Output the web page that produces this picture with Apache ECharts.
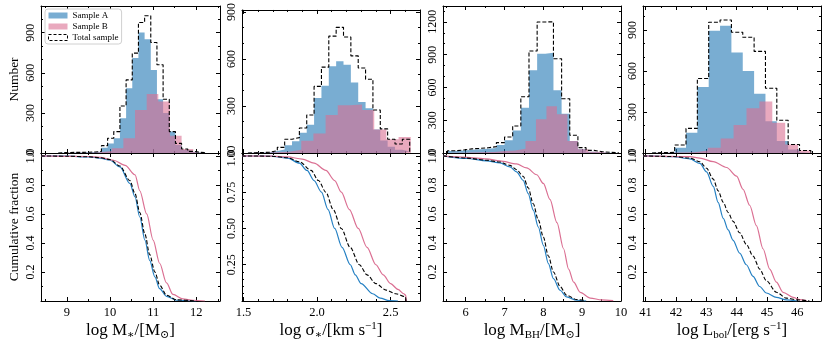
<!DOCTYPE html>
<html>
<head>
<meta charset="utf-8">
<script src="https://cdn.jsdelivr.net/npm/echarts@6/dist/echarts.min.js"></script>
<style>
html, body { margin: 0; padding: 0; background: #fff; }
#main { width: 830px; height: 346px; }
</style>
</head>
<body>
<div id="main"></div>
<script>
// histogram bins: [first edge, bin width], counts per bin
var binMA = [8.8, 0.143];
var cntMA = [2, 2, 3, 4, 5, 7, 10, 40, 72, 110, 260, 485, 710, 902, 852, 622, 402, 300, 160, 60, 22, 8, 3, 1];
var cntMT = [3, 4, 5, 5, 6, 8, 12, 55, 110, 160, 352, 547, 747, 977, 1027, 827, 660, 402, 160, 72, 30, 12, 5, 2];
var binMB = [8.96, 0.27];
var cntMB = [1, 2, 5, 15, 35, 110, 322, 442, 385, 130, 30, 8];

var binSA = [1.53, 0.05];
var cntSA = [2, 3, 5, 12, 22, 50, 75, 130, 181, 351, 430, 554, 585, 564, 450, 326, 285, 150, 80, 40, 20, 10];
var cntST = [2, 3, 5, 15, 36, 88, 98, 160, 243, 425, 548, 746, 802, 740, 620, 543, 471, 274, 154, 88, 57, 88];
var binSB = [1.562, 0.0827];
var cntSB = [2, 4, 8, 20, 78, 124, 243, 305, 309, 274, 150, 88, 102];

var binBA = [5.53, 0.21];
var cntBA = [18, 24, 30, 35, 40, 45, 73, 116, 207, 415, 756, 909, 918, 573, 360, 110, 34, 12, 5, 2, 1];
var cntBT = [20, 28, 38, 42, 48, 58, 95, 146, 247, 515, 933, 1199, 1200, 863, 497, 162, 49, 24, 12, 6, 3];
var binBB = [5.65, 0.27];
var cntBB = [2, 4, 6, 9, 18, 24, 40, 110, 308, 427, 354, 110, 34, 12, 4];

var binLA = [41.21, 0.374];
var cntLA = [1, 3, 38, 148, 483, 894, 931, 735, 600, 434, 233, 87, 26, 5];
var cntLT = [3, 5, 58, 180, 545, 956, 973, 883, 846, 743, 473, 239, 62, 18];
var binLB = [41.35, 0.425];
var cntLB = [1, 3, 6, 18, 38, 106, 204, 327, 376, 222, 62, 18];

// cumulative fraction curves [x, fraction]
var cumMA = [[8.4,1.0],[9.0,0.998],[9.5,0.993],[9.77,0.985],[10.0,0.97],[10.23,0.924],[10.46,0.81],[10.58,0.717],[10.69,0.579],[10.81,0.419],[10.92,0.28],[11.04,0.166],[11.15,0.085],[11.31,0.032],[11.54,0.005],[12.0,0.0]];
var cumMT = [[8.4,1.0],[9.0,0.998],[9.5,0.994],[9.77,0.987],[10.0,0.975],[10.23,0.93],[10.46,0.83],[10.58,0.74],[10.69,0.61],[10.81,0.46],[10.92,0.32],[11.04,0.2],[11.15,0.11],[11.31,0.04],[11.54,0.008],[12.0,0.0]];
var cumMB = [[8.4,1.0],[9.5,0.996],[9.77,0.99],[10.08,0.97],[10.35,0.935],[10.58,0.87],[10.69,0.76],[10.85,0.6],[11.0,0.42],[11.15,0.26],[11.31,0.125],[11.46,0.045],[11.69,0.015],[11.92,0.005],[12.2,0.0]];

var cumSA = [[1.49,1.0],[1.6,0.999],[1.7,0.997],[1.8,0.985],[1.88,0.95],[1.932,0.9],[1.98,0.83],[2.03,0.75],[2.075,0.63],[2.12,0.5],[2.17,0.37],[2.226,0.25],[2.26,0.18],[2.3,0.12],[2.378,0.05],[2.43,0.02],[2.49,0.003],[2.55,0.0]];
var cumST = [[1.49,1.0],[1.6,0.999],[1.7,0.997],[1.8,0.987],[1.88,0.96],[1.96,0.9],[2.01,0.83],[2.06,0.75],[2.11,0.63],[2.165,0.5],[2.225,0.37],[2.288,0.25],[2.34,0.18],[2.4,0.12],[2.47,0.075],[2.536,0.05],[2.6,0.03],[2.605,0.0]];
var cumSB = [[1.49,1.0],[1.7,0.998],[1.8,0.993],[1.9,0.978],[1.98,0.95],[2.06,0.9],[2.12,0.83],[2.165,0.75],[2.22,0.63],[2.28,0.5],[2.34,0.37],[2.4,0.25],[2.45,0.18],[2.5,0.12],[2.55,0.08],[2.59,0.05],[2.603,0.04],[2.607,0.0]];

var cumBA = [[5.42,1.0],[6.03,0.982],[6.54,0.966],[6.88,0.952],[7.14,0.924],[7.31,0.89],[7.48,0.832],[7.61,0.74],[7.74,0.626],[7.87,0.51],[8.0,0.384],[8.13,0.258],[8.26,0.154],[8.43,0.074],[8.6,0.028],[8.86,0.005],[9.1,0.0]];
var cumBT = [[5.42,1.0],[6.03,0.985],[6.54,0.97],[6.88,0.958],[7.14,0.935],[7.31,0.905],[7.48,0.86],[7.61,0.78],[7.74,0.67],[7.87,0.56],[8.0,0.44],[8.13,0.31],[8.26,0.2],[8.43,0.1],[8.6,0.04],[8.86,0.01],[9.1,0.002]];
var cumBB = [[5.42,1.0],[6.03,0.99],[6.54,0.98],[6.88,0.966],[7.31,0.945],[7.57,0.917],[7.83,0.87],[8.0,0.81],[8.17,0.7],[8.35,0.54],[8.52,0.36],[8.65,0.22],[8.78,0.13],[8.95,0.06],[9.21,0.02],[9.5,0.008],[9.8,0.002]];

var cumLA = [[40.92,1.0],[41.91,0.995],[42.46,0.98],[42.79,0.948],[43.01,0.89],[43.23,0.79],[43.39,0.68],[43.56,0.57],[43.72,0.49],[43.88,0.42],[44.1,0.33],[44.32,0.25],[44.54,0.17],[44.76,0.1],[44.98,0.055],[45.31,0.025],[45.64,0.008],[46.0,0.0]];
var cumLT = [[40.92,1.0],[41.91,0.996],[42.46,0.985],[42.79,0.96],[43.01,0.915],[43.23,0.84],[43.39,0.76],[43.56,0.68],[43.72,0.61],[43.88,0.55],[44.1,0.47],[44.32,0.39],[44.54,0.31],[44.76,0.22],[44.98,0.14],[45.31,0.06],[45.64,0.02],[46.0,0.008],[46.4,0.0]];
var cumLB = [[40.92,1.0],[42.46,0.995],[42.79,0.985],[43.23,0.96],[43.67,0.92],[44.0,0.86],[44.21,0.77],[44.43,0.66],[44.65,0.52],[44.87,0.36],[45.09,0.22],[45.31,0.13],[45.53,0.06],[45.86,0.025],[46.08,0.01],[46.3,0.003]];

// tick labels
var xTicks = [[9, 10, 11, 12], [1.5, 2.0, 2.5], [6, 7, 8, 9, 10], [41, 42, 43, 44, 45, 46]];
var numTicks = [[0, 300, 600, 900], [0, 300, 600, 900], [0, 300, 600, 900, 1200], [0, 300, 600, 900]];
var fracTicks = [[0.2, 0.4, 0.6, 0.8, 1.0], [0.25, 0.5, 0.75, 1.0], [0.2, 0.4, 0.6, 0.8, 1.0], [0.2, 0.4, 0.6, 0.8, 1.0]];
var xNames = [
  '{n|log M}{sub|∗}{n|/[M}{sub|⊙}{n|]}',
  '{n|log σ}{sub|∗}{n|/[km s}{sup|−1}{n|]}',
  '{n|log M}{sub|BH}{n|/[M}{sub|⊙}{n|]}',
  '{n|log L}{sub|bol}{n|/[erg s}{sup|−1}{n|]}'
];

var FONT = "'Liberation Serif','DejaVu Serif',serif";
var fillA = 'rgba(31,119,180,0.6)';
var fillB = 'rgba(219,112,147,0.6)';
var lineA = '#2580c3';
var lineB = '#db7093';

var gridLeft = [41, 242, 443, 643];
var gridWidth = [179, 178, 178, 178];
var xRange = [[8.4, 12.55], [1.49, 2.70], [5.415, 10.0], [40.915, 46.78]];
var topMax = [1100, 913, 1345, 1075];
var xMinorStep = [0.5, 0.1, 0.5, 0.5];
var fracMinorStep = [0.1, 0.05, 0.1, 0.1];

function steps(lo, hi, st) {
  var out = [];
  for (var k = Math.ceil(lo / st - 1e-9); k * st <= hi + 1e-9; k++) out.push(+(k * st).toFixed(4));
  return out;
}
function hist(bin, cnt) {
  var d = [];
  for (var i = 0; i < cnt.length; i++) d.push([bin[0] + i * bin[1], cnt[i]]);
  d.push([bin[0] + cnt.length * bin[1], cnt[cnt.length - 1]]);
  return d;
}
function outline(bin, cnt) {
  var d = [[bin[0], 0]];
  for (var i = 0; i < cnt.length; i++) d.push([bin[0] + i * bin[1], cnt[i]]);
  d.push([bin[0] + cnt.length * bin[1], 0]);
  return d;
}

var histSets = [
  [binMA, cntMA, binMB, cntMB, cntMT],
  [binSA, cntSA, binSB, cntSB, cntST],
  [binBA, cntBA, binBB, cntBB, cntBT],
  [binLA, cntLA, binLB, cntLB, cntLT]
];
var cumSets = [[cumMA, cumMB, cumMT], [cumSA, cumSB, cumST], [cumBA, cumBB, cumBT], [cumLA, cumLB, cumLT]];

var grids = [], xAxes = [], yAxes = [], series = [];
var black = { color: '#000', width: 1 };

for (var r = 0; r < 2; r++) {
  for (var c = 0; c < 4; c++) {
    var g = r * 4 + c;
    grids.push({ left: gridLeft[c], width: gridWidth[c], top: r === 0 ? 6 : 153, height: r === 0 ? 147 : 148 });
    var xr = xRange[c];
    var xMinor = steps(xr[0], xr[1], xMinorStep[c]);
    var yMax = r === 0 ? topMax[c] : 1.02;
    var yMajor = r === 0 ? numTicks[c] : fracTicks[c];
    var yMinor = r === 0 ? steps(0, yMax, 100) : steps(0, 1.02, fracMinorStep[c]);
    ['bottom', 'top'].forEach(function (pos) {
      var main = pos === 'bottom';
      xAxes.push({
        gridIndex: g, type: 'value', position: pos, min: xr[0], max: xr[1],
        axisLine: { show: true, onZero: false, lineStyle: black },
        axisTick: { show: true, inside: true, length: 4, customValues: xTicks[c], lineStyle: black },
        axisLabel: (main && r === 1) ? {
          show: true, customValues: xTicks[c], margin: 5, fontSize: 12.5, color: '#000', fontFamily: FONT,
          formatter: (function (cc) { return function (v) { return cc === 1 ? v.toFixed(1) : String(v); }; })(c)
        } : { show: false },
        splitLine: { show: false },
        name: (main && r === 1) ? xNames[c] : '',
        nameLocation: 'middle', nameGap: 20,
        nameTextStyle: {
          fontFamily: FONT, color: '#000', fontSize: 17,
          rich: {
            n: { fontFamily: FONT, fontSize: 17, lineHeight: 20, verticalAlign: 'middle', color: '#000' },
            sub: { fontFamily: FONT, fontSize: 11, lineHeight: 12, verticalAlign: 'bottom', color: '#000' },
            sup: { fontFamily: FONT, fontSize: 11, lineHeight: 10, verticalAlign: 'top', color: '#000' }
          }
        }
      });
    });
    ['bottom', 'top'].forEach(function (pos) {
      xAxes.push({
        gridIndex: g, type: 'value', position: pos, min: xr[0], max: xr[1],
        axisLine: { show: false, onZero: false },
        axisTick: { show: true, inside: true, length: 2, customValues: xMinor, lineStyle: black },
        axisLabel: { show: false }, splitLine: { show: false }
      });
    });
    ['left', 'right'].forEach(function (pos) {
      var main = pos === 'left';
      yAxes.push({
        gridIndex: g, type: 'value', position: pos, min: 0, max: yMax,
        axisLine: { show: true, onZero: false, lineStyle: black },
        axisTick: { show: true, inside: true, length: 4, customValues: yMajor, lineStyle: black },
        axisLabel: main ? {
          show: true, customValues: yMajor, rotate: 90, margin: 4, fontSize: 12, color: '#000', fontFamily: FONT,
          formatter: (function (rr, cc) {
            return function (v) { return rr === 0 ? String(v) : (cc === 1 ? v.toFixed(2) : v.toFixed(1)); };
          })(r, c)
        } : { show: false },
        splitLine: { show: false },
        name: (main && c === 0) ? (r === 0 ? 'Number' : 'Cumulative fraction') : '',
        nameLocation: 'middle', nameGap: 20,
        nameTextStyle: { fontFamily: FONT, color: '#000', fontSize: 13.5 }
      });
    });
    ['left', 'right'].forEach(function (pos) {
      yAxes.push({
        gridIndex: g, type: 'value', position: pos, min: 0, max: yMax,
        axisLine: { show: false, onZero: false },
        axisTick: { show: true, inside: true, length: 2, customValues: yMinor, lineStyle: black },
        axisLabel: { show: false }, splitLine: { show: false }
      });
    });

    var ax = 4 * g;
    if (r === 0) {
      var h = histSets[c];
      series.push({ type: 'line', name: 'Sample A', xAxisIndex: ax, yAxisIndex: ax, data: hist(h[0], h[1]),
        step: 'end', symbol: 'none', silent: true, lineStyle: { opacity: 0 }, areaStyle: { color: fillA, opacity: 1 }, z: 2 });
      series.push({ type: 'line', name: 'Sample B', xAxisIndex: ax, yAxisIndex: ax, data: hist(h[2], h[3]),
        step: 'end', symbol: 'none', silent: true, lineStyle: { opacity: 0 }, areaStyle: { color: fillB, opacity: 1 }, z: 3 });
      series.push({ type: 'line', name: 'Total sample', xAxisIndex: ax, yAxisIndex: ax, data: outline(h[0], h[4]),
        step: 'end', symbol: 'none', silent: true, lineStyle: { color: '#000', width: 1.1, type: [4, 2] }, z: 4 });
    } else {
      var cs = cumSets[c];
      series.push({ type: 'line', name: 'Sample A', xAxisIndex: ax, yAxisIndex: ax, data: cs[0], smooth: 0.3,
        smoothMonotone: 'x', symbol: 'none', silent: true, lineStyle: { color: lineA, width: 1.2 }, z: 2 });
      series.push({ type: 'line', name: 'Sample B', xAxisIndex: ax, yAxisIndex: ax, data: cs[1], smooth: 0.3,
        smoothMonotone: 'x', symbol: 'none', silent: true, lineStyle: { color: lineB, width: 1.2 }, z: 3 });
      series.push({ type: 'line', name: 'Total sample', xAxisIndex: ax, yAxisIndex: ax, data: cs[2], smooth: 0.3,
        smoothMonotone: 'x', symbol: 'none', silent: true, lineStyle: { color: '#000', width: 1.1, type: [4, 2] }, z: 4 });
    }
  }
}

var myChart = echarts.init(document.getElementById('main'));
myChart.setOption({
  animation: false,
  backgroundColor: '#fff',
  legend: {
    left: 45, top: 9, orient: 'vertical', itemWidth: 19, itemHeight: 6, itemGap: 2,
    padding: [2, 3, 2, 3], borderColor: '#d0d0d0', borderWidth: 1, borderRadius: 3, backgroundColor: '#fff',
    textStyle: { fontFamily: FONT, fontSize: 9, color: '#000' },
    selectedMode: false,
    data: [
      { name: 'Sample A', icon: 'rect', itemStyle: { color: fillA, borderWidth: 0 } },
      { name: 'Sample B', icon: 'rect', itemStyle: { color: fillB, borderWidth: 0 } },
      { name: 'Total sample', icon: 'rect', itemStyle: { color: '#fff', borderColor: '#000', borderWidth: 1, borderType: [3, 2] } }
    ]
  },
  grid: grids,
  xAxis: xAxes,
  yAxis: yAxes,
  series: series
});
</script>
</body>
</html>
